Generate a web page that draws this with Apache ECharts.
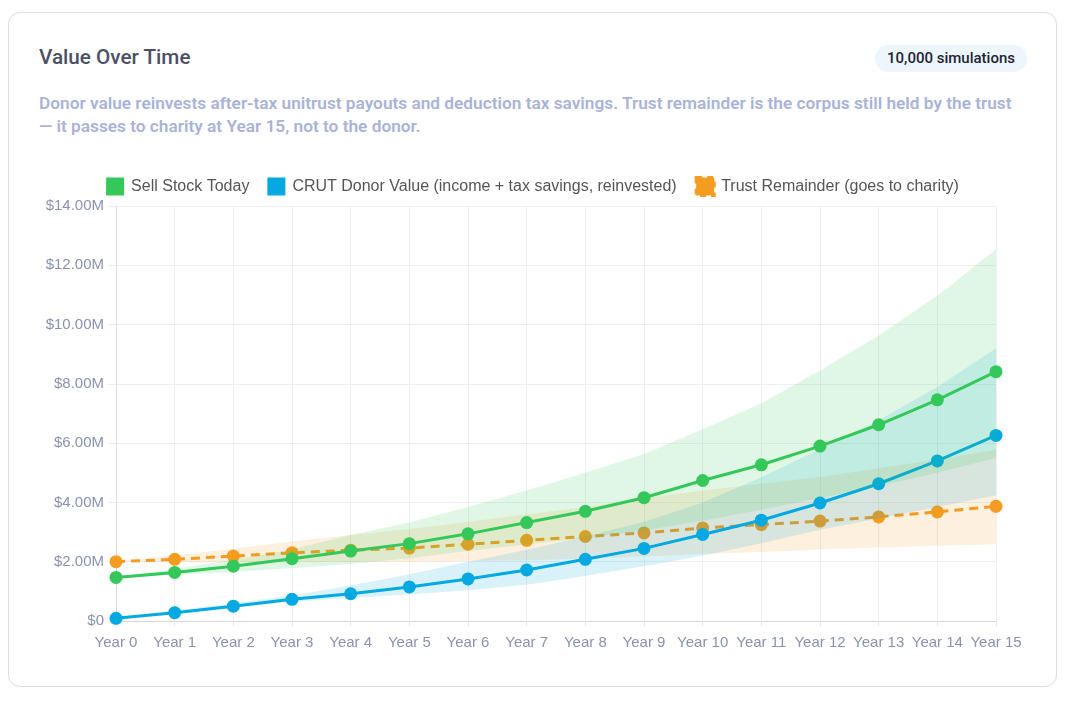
<!DOCTYPE html>
<html>
<head>
<meta charset="utf-8">
<script src="https://cdn.jsdelivr.net/npm/echarts@6/dist/echarts.min.js"></script>
<style>
  html, body { margin: 0; padding: 0; background: #fff; }
  body { width: 1071px; height: 709px; position: relative; font-family: Roboto, "Noto Sans", sans-serif; }
  .card { position: absolute; left: 8px; top: 12px; width: 1047px; height: 673px; border: 1px solid #dcdde3; border-radius: 12px; }
  .title { position: absolute; left: 30px; top: 32px; font-size: 20.7px; font-weight: 500; color: #4b5066; }
  .badge { position: absolute; right: 29px; top: 32px; height: 27px; line-height: 27px; padding: 0 12px; border-radius: 14px; background: #edf5fd; color: #1f2333; font-size: 15px; font-weight: 500; }
  .note { position: absolute; left: 30px; top: 79px; width: 988px; font-size: 17.25px; font-weight: 600; line-height: 23px; color: #a9b3d8; }
  #chart { position: absolute; left: 0; top: 125px; width: 1047px; height: 535px; }
</style>
</head>
<body>
<div class="card">
  <div class="title">Value Over Time</div>
  <div class="badge">10,000 simulations</div>
  <div class="note">Donor value reinvests after-tax unitrust payouts and deduction tax savings. Trust remainder is the corpus still held by the trust — it passes to charity at Year 15, not to the donor.</div>
  <div id="chart"></div>
</div>
<script>
// values in $ millions
var years = ['Year 0','Year 1','Year 2','Year 3','Year 4','Year 5','Year 6','Year 7','Year 8','Year 9','Year 10','Year 11','Year 12','Year 13','Year 14','Year 15'];

var sellMedian = [1.47,1.64,1.85,2.10,2.36,2.61,2.94,3.32,3.70,4.16,4.74,5.27,5.90,6.62,7.46,8.41];
var sellLow    = [1.46,1.55,1.66,1.78,1.92,2.12,2.36,2.58,2.80,3.05,3.38,3.75,4.15,4.55,5.00,5.50];
var sellHigh   = [1.49,1.76,2.06,2.42,2.90,3.32,3.85,4.40,5.00,5.63,6.47,7.35,8.45,9.63,10.97,12.54];

var crutMedian = [0.09,0.28,0.50,0.73,0.92,1.15,1.42,1.72,2.08,2.45,2.92,3.40,3.98,4.63,5.40,6.26];
var crutLow    = [0.08,0.26,0.46,0.65,0.78,0.89,1.04,1.22,1.52,1.85,2.20,2.62,3.08,3.46,3.85,4.24];
var crutHigh   = [0.10,0.36,0.60,0.86,1.20,1.58,2.00,2.40,2.85,3.35,4.00,4.85,5.80,6.77,7.89,9.20];

var trustMedian = [2.00,2.08,2.19,2.30,2.39,2.46,2.59,2.72,2.85,2.97,3.14,3.25,3.37,3.51,3.68,3.87];
var trustLow    = [2.00,1.98,1.98,1.98,1.99,2.00,2.02,2.05,2.10,2.18,2.26,2.33,2.41,2.48,2.54,2.59];
var trustHigh   = [2.00,2.22,2.44,2.68,2.90,3.10,3.35,3.60,3.85,4.15,4.40,4.63,4.86,5.15,5.45,5.78];

var yTicks = { min: 0, max: 14, interval: 2 };

var names = ['Sell Stock Today', 'CRUT Donor Value (income + tax savings, reinvested)', 'Trust Remainder (goes to charity)'];
var GREEN = '#34c759', BLUE = '#03a9e0', ORANGE = '#f39c1f';

function diff(hi, lo) {
    return hi.map(function (v, i) { return +(v - lo[i]).toFixed(3); });
}

// band = invisible lower line + stacked difference with fill
function band(key, lo, hi, color, z) {
    return [{
        name: key + ' low', type: 'line', stack: key, data: lo, z: z,
        symbol: 'none', lineStyle: { opacity: 0 }, silent: true
    }, {
        name: key + ' band', type: 'line', stack: key, data: diff(hi, lo), z: z,
        symbol: 'none', lineStyle: { opacity: 0 }, silent: true,
        areaStyle: { color: color, opacity: 0.15 }
    }];
}

function mainLine(name, data, color, dashed, z) {
    return {
        name: name, type: 'line', data: data, z: z,
        symbol: 'circle', symbolSize: 13,
        itemStyle: { color: color },
        lineStyle: { color: color, width: 3, type: dashed ? [9, 6] : 'solid' }
    };
}

var myChart = echarts.init(document.getElementById('chart'));

// later groups sit on top: trust < crut < sell
var series = []
    .concat(band('trust', trustLow, trustHigh, ORANGE, 1))
    .concat([mainLine(names[2], trustMedian, ORANGE, true, 1)])
    .concat(band('crut', crutLow, crutHigh, BLUE, 2))
    .concat([mainLine(names[1], crutMedian, BLUE, false, 2)])
    .concat(band('sell', sellLow, sellHigh, GREEN, 3))
    .concat([mainLine(names[0], sellMedian, GREEN, false, 3)]);

var option = {
    animation: false,
    textStyle: { fontFamily: '"Liberation Sans", Arial, sans-serif' },
    legend: {
        data: [
            names[0],
            names[1],
            { name: names[2], itemStyle: { borderColor: ORANGE, borderWidth: 3, borderType: [6, 5] } }
        ],
        top: 33,
        left: 'center',
        icon: 'rect',
        itemWidth: 18,
        itemHeight: 18,
        itemGap: 18,
        textStyle: { color: '#555', fontSize: 16, padding: [0, 0, 0, 2] }
    },
    grid: { left: 107, right: 60, top: 68, bottom: 52 },
    xAxis: {
        type: 'category',
        data: years,
        boundaryGap: false,
        axisLine: { lineStyle: { color: '#d6d6dc' } },
        axisTick: { show: true, length: 5, lineStyle: { color: '#e6e6ea' } },
        axisLabel: { color: '#8a92b2', fontSize: 15, margin: 14, interval: 0 },
        splitLine: { show: true, lineStyle: { color: '#efeff2' } }
    },
    yAxis: {
        type: 'value',
        min: yTicks.min, max: yTicks.max, interval: yTicks.interval,
        axisLine: { show: true, lineStyle: { color: '#dcdce2' } },
        axisTick: { show: true, length: 8, lineStyle: { color: '#ececf0' } },
        axisLabel: {
            color: '#8a92b2', fontSize: 15, margin: 12,
            formatter: function (v) { return v === 0 ? '$0' : '$' + v.toFixed(2) + 'M'; }
        },
        splitLine: { lineStyle: { color: '#efeff2' } }
    },
    series: series
};

myChart.setOption(option);
</script>
</body>
</html>
